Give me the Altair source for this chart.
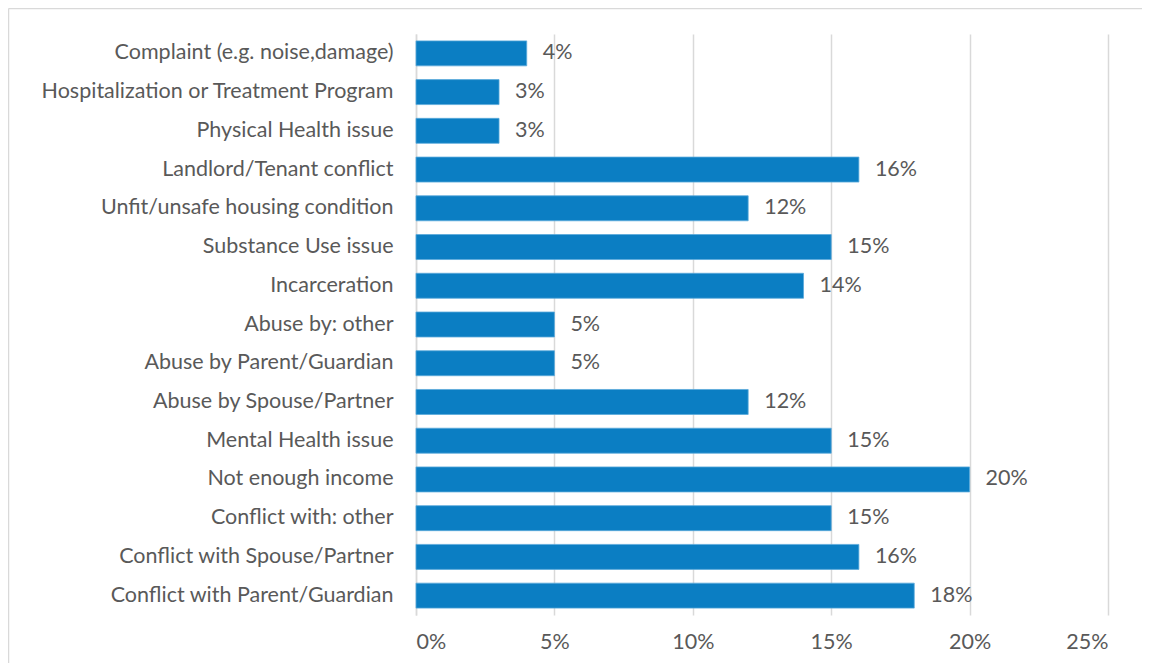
import altair as alt
import pandas as pd

categories = [
    "Complaint (e.g. noise,damage)",
    "Hospitalization or Treatment Program",
    "Physical Health issue",
    "Landlord/Tenant conflict",
    "Unfit/unsafe housing condition",
    "Substance Use issue",
    "Incarceration",
    "Abuse by: other",
    "Abuse by Parent/Guardian",
    "Abuse by Spouse/Partner",
    "Mental Health issue",
    "Not enough income",
    "Conflict with: other",
    "Conflict with Spouse/Partner",
    "Conflict with Parent/Guardian",
]
values = [0.04, 0.03, 0.03, 0.16, 0.12, 0.15, 0.14, 0.05, 0.05, 0.12, 0.15, 0.20, 0.15, 0.16, 0.18]
x_ticks = [0, 0.05, 0.10, 0.15, 0.20, 0.25]

df = pd.DataFrame({"cat": categories, "val": values})

FONT = "Lato"
FS = 21.5
TXT = "#595959"
W, H = 692, 581

y_enc = alt.Y("cat:N", sort=categories,
              scale=alt.Scale(paddingInner=0.355, paddingOuter=0.1775),
              axis=alt.Axis(title=None, ticks=False, domain=True, domainColor="#d9d9d9",
                            domainWidth=1.5, labelFont=FONT, labelFontSize=FS,
                            labelColor=TXT, labelPadding=23, labelLimit=500, grid=False))
x_enc = alt.X("val:Q", scale=alt.Scale(domain=[0, 0.25], nice=False),
              axis=alt.Axis(title=None, values=x_ticks, format=".0%", ticks=False, domain=False,
                            grid=True, gridColor="#d9d9d9", gridWidth=1.5,
                            labelFont=FONT, labelFontSize=FS, labelColor=TXT, labelPadding=16))

frame = pd.DataFrame({"a": [0]})
top_line = alt.Chart(frame).mark_rule(color="#d9d9d9", strokeWidth=1.5, clip=False).encode(
    x=alt.value(-407.5), x2=alt.value(740), y=alt.value(-25.5))
left_line = alt.Chart(frame).mark_rule(color="#d9d9d9", strokeWidth=1.5, clip=False).encode(
    x=alt.value(-407.5), y=alt.value(-25.5), y2=alt.value(640))

bars = alt.Chart(df).mark_bar(color="#0B7EC3", stroke="#5AA9DA", strokeWidth=0.8).encode(y=y_enc, x=x_enc)
labels = alt.Chart(df).mark_text(align="left", baseline="middle", dx=16, font=FONT,
                                 fontSize=FS, color=TXT).encode(
    y=alt.Y("cat:N", sort=categories), x="val:Q", text=alt.Text("val:Q", format=".0%"))

chart = alt.layer(top_line, left_line, bars, labels).properties(
    width=W, height=H,
    autosize=alt.AutoSizeParams(type="none"),
    padding={"left": 408, "top": 26, "right": 34, "bottom": 48},
).configure_view(stroke=None)

chart.save("out.html", embed_options={"renderer": "svg", "actions": False})
